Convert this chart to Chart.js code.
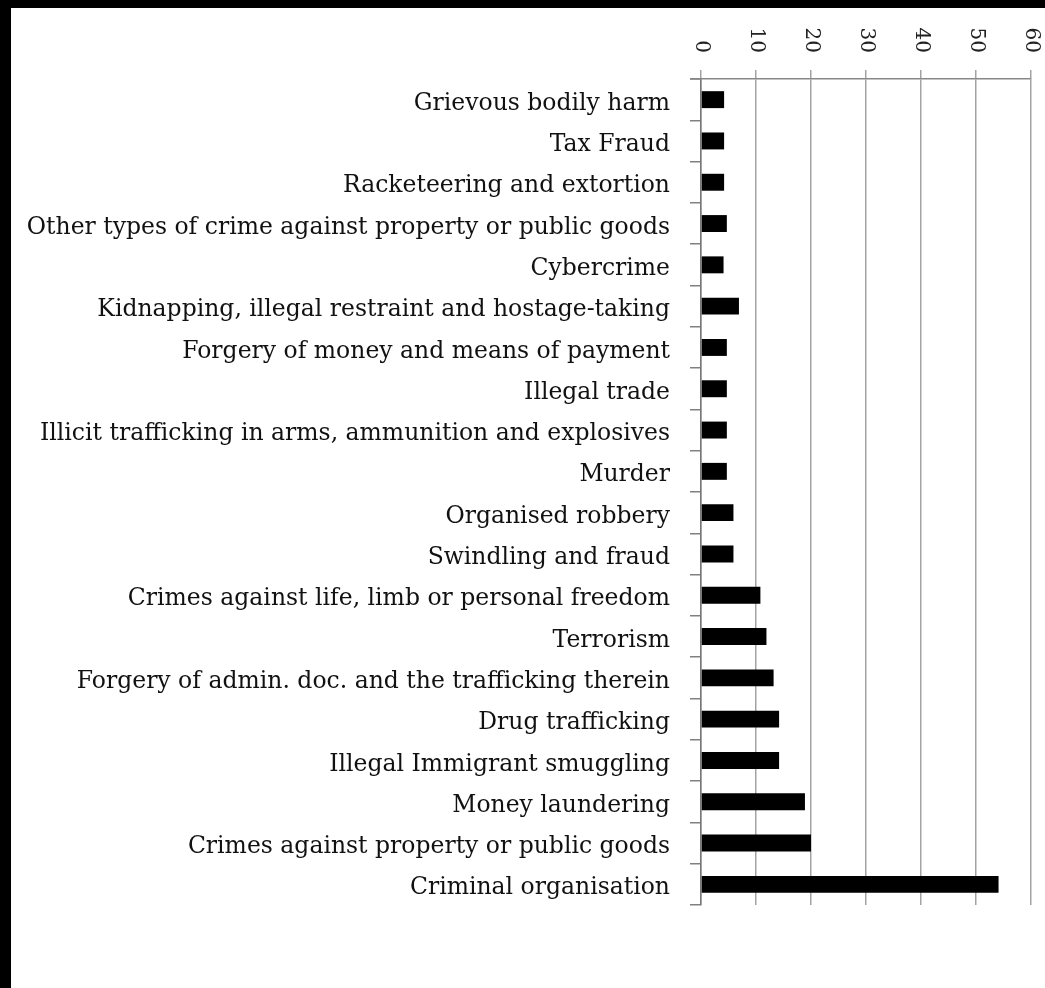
<!DOCTYPE html>
<html><head><meta charset="utf-8">
<script src="https://cdn.jsdelivr.net/npm/chart.js@4"></script>
<style>
html,body{margin:0;padding:0;background:#000;width:1045px;height:988px;overflow:hidden}
#wrap{position:absolute;left:11px;top:8px;width:1034px;height:980px;background:#fff}
canvas{display:block}
</style></head><body><div id="wrap"><canvas id="c" width="1034" height="980"></canvas></div>
<script>
const categories = [
  "Grievous bodily harm",
  "Tax Fraud",
  "Racketeering and extortion",
  "Other types of crime against property or public goods",
  "Cybercrime",
  "Kidnapping, illegal restraint and hostage-taking",
  "Forgery of money and means of payment",
  "Illegal trade",
  "Illicit trafficking in arms, ammunition and explosives",
  "Murder",
  "Organised robbery",
  "Swindling and fraud",
  "Crimes against life, limb or personal freedom",
  "Terrorism",
  "Forgery of admin. doc. and the trafficking therein",
  "Drug trafficking",
  "Illegal Immigrant smuggling",
  "Money laundering",
  "Crimes against property or public goods",
  "Criminal organisation"
];
const values = [4.2, 4.2, 4.2, 4.7, 4.1, 6.9, 4.7, 4.7, 4.7, 4.7, 5.9, 5.9, 10.8, 11.9, 13.2, 14.2, 14.2, 18.9, 20, 54.1];
const xTicks = [0, 10, 20, 30, 40, 50, 60];

const tickFont = '20px "DejaVu Serif"';

const topLabels = {
  id: 'topLabels',
  afterDraw(chart) {
    const sc = chart.scales.x;
    const ctx = chart.ctx;
    const top = chart.chartArea.top;
    ctx.save();
    // extend top axis line to the left over the tick length
    ctx.strokeStyle = '#888';
    ctx.lineWidth = 1.5;
    ctx.beginPath();
    ctx.moveTo(chart.chartArea.left - 11, top);
    ctx.lineTo(chart.chartArea.left, top);
    ctx.stroke();
    ctx.font = tickFont;
    ctx.fillStyle = '#222';
    ctx.textAlign = 'right';
    ctx.textBaseline = 'middle';
    xTicks.forEach(v => {
      const px = sc.getPixelForValue(v);
      ctx.save();
      ctx.translate(px, top - 26);
      ctx.rotate(Math.PI / 2);
      ctx.fillText(String(v), 0, 0);
      ctx.restore();
    });
    ctx.restore();
  }
};

new Chart(document.getElementById('c'), {
  type: 'bar',
  data: {
    labels: categories,
    datasets: [{
      data: values,
      backgroundColor: '#000',
      borderWidth: 0,
      barPercentage: 0.41,
      categoryPercentage: 1
    }]
  },
  options: {
    indexAxis: 'y',
    responsive: false,
    animation: false,
    layout: { padding: { left: 0, right: 14, top: 0, bottom: 83 } },
    plugins: { legend: { display: false }, tooltip: { enabled: false } },
    scales: {
      x: {
        position: 'top',
        min: 0, max: 60,
        ticks: { display: false, stepSize: 10 },
        grid: { color: '#a3a3a3', lineWidth: 1.5, tickLength: 9, drawTicks: true },
        border: { display: true, color: '#888', width: 1.5 },
        afterFit(s) { s.height = 71; }
      },
      y: {
        ticks: { font: { family: 'DejaVu Serif', size: 23.5 }, color: '#111', padding: 20, autoSkip: false, labelOffset: 4 },
        grid: { drawOnChartArea: false, tickLength: 11, color: '#808080', lineWidth: 1.5, offset: true },
        border: { display: true, color: '#777', width: 1.5 },
        afterFit(s) { s.width = 690; }
      }
    }
  },
  plugins: [topLabels]
});
</script>
</body></html>
